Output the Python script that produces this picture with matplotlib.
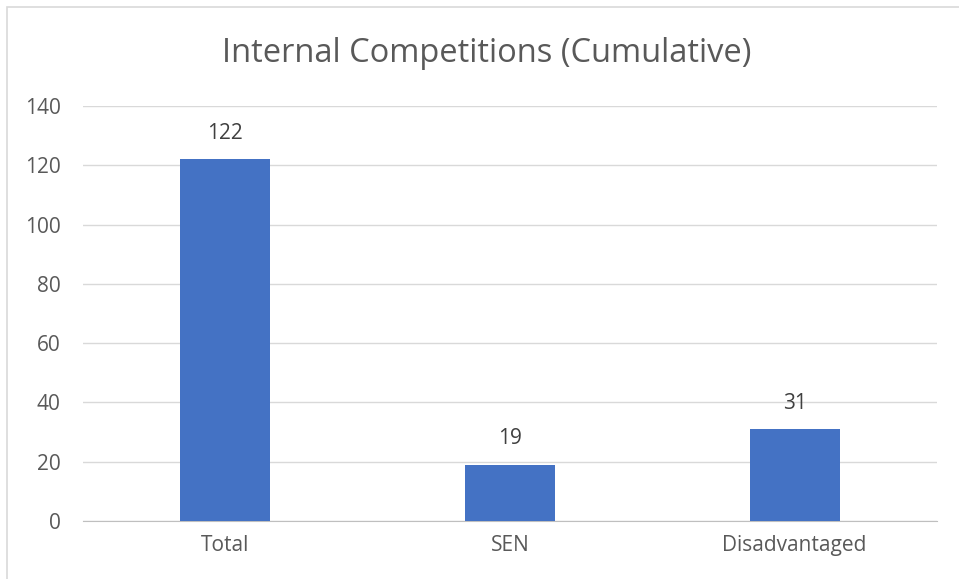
import matplotlib.pyplot as plt
from matplotlib.patches import Rectangle

categories = ['Total', 'SEN', 'Disadvantaged']
values = [122, 19, 31]
yticks = [0, 20, 40, 60, 80, 100, 120, 140]

W, H = 959, 579
plt.rcParams['font.family'] = ['Open Sans', 'DejaVu Sans']
fig = plt.figure(figsize=(W / 100, H / 100), dpi=100)

# chart border (only left/top visible, the rest is cropped)
fig.patches.append(Rectangle((7 / W, -0.1), 1.2, (H - 7) / H + 0.1,
                             transform=fig.transFigure, fill=False,
                             edgecolor='#D9D9D9', linewidth=1.2))

ax = fig.add_axes([83 / W, (H - 521) / H, (937 - 83) / W, (521 - 106) / H])
x = range(len(categories))
bars = ax.bar(x, values, width=0.316, color='#4472C4', zorder=3)

ax.set_xlim(-0.5, len(categories) - 0.5)
ax.set_ylim(0, 140)
ax.set_yticks(yticks)
ax.set_xticks(list(x))
ax.set_xticklabels(categories)
ax.grid(axis='y', color='#D9D9D9', linewidth=1, zorder=0)
for s in ['top', 'right', 'left']:
    ax.spines[s].set_visible(False)
ax.spines['bottom'].set_color('#BFBFBF')
ax.tick_params(axis='both', length=0, colors='#595959', labelsize=15)
ax.tick_params(axis='y', pad=16)
ax.tick_params(axis='x', pad=10)

for b, v in zip(bars, values):
    ax.annotate(str(v), (b.get_x() + b.get_width() / 2, v),
                xytext=(0, 11), textcoords='offset points',
                ha='center', va='bottom', fontsize=15, color='#404040')

fig.text(487 / W, 1 - 54 / H, 'Internal Competitions (Cumulative)',
         ha='center', va='center', fontsize=23.5, color='#595959')

fig.savefig('out.png', dpi=100)
